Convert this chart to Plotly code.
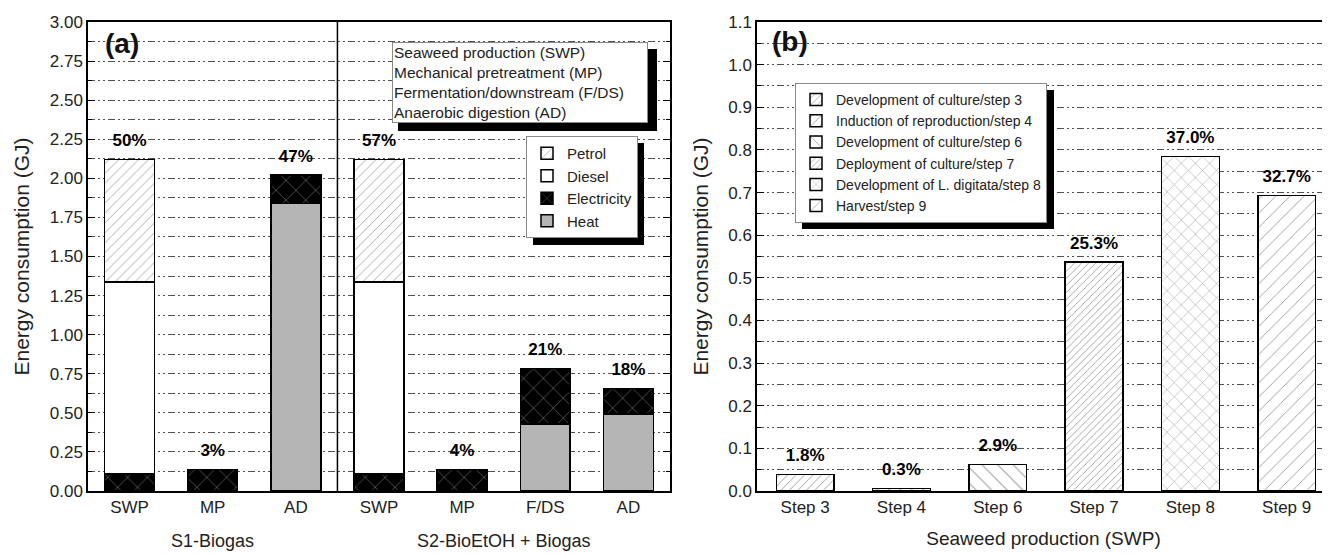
import plotly.graph_objects as go

# ---------------- data ----------------
scenarios = ["S1-Biogas", "S1-Biogas", "S1-Biogas",
             "S2-BioEtOH + Biogas", "S2-BioEtOH + Biogas", "S2-BioEtOH + Biogas", "S2-BioEtOH + Biogas"]
processes = ["SWP", "MP", "AD", "SWP", "MP", "F/DS", "AD"]
heat = [None, None, 1.838, None, None, 0.429, 0.493]
electricity = [0.110, 0.136, 0.183, 0.110, 0.136, 0.355, 0.164]
diesel = [1.227, None, None, 1.227, None, None, None]
petrol = [0.782, None, None, 0.782, None, None, None]
share_a = ["50%", "3%", "47%", "57%", "4%", "21%", "18%"]
scenario_labels = ["S1-Biogas", "S2-BioEtOH + Biogas"]

steps = ["Step 3", "Step 4", "Step 6", "Step 7", "Step 8", "Step 9"]
step_names = ["Development of culture/step 3", "Induction of reproduction/step 4",
              "Development of culture/step 6", "Deployment of culture/step 7",
              "Development of L. digitata/step 8", "Harvest/step 9"]
step_values = [0.039, 0.0055, 0.0625, 0.537, 0.784, 0.693]
share_b = ["1.8%", "0.3%", "2.9%", "25.3%", "37.0%", "32.7%"]

process_key = ["Seaweed production (SWP)", "Mechanical pretreatment (MP)",
               "Fermentation/downstream (F/DS)", "Anaerobic digestion (AD)"]

# ---------------- layout helpers ----------------
OFF = 8                      # default page margin of the html body
W, H = 1330 - OFF, 555 - OFF
TOP, BOT = 22, 491           # plot area in window pixels
FONT = "Liberation Sans, Arial, sans-serif"


def px(x):
    return (x - OFF) / W


def py(y):
    return (BOT - y) / (BOT - TOP)


keys = [s + "|" + p for s, p in zip(scenarios, processes)]
fig = go.Figure()

line = dict(color="black", width=1.5)
fig.add_trace(go.Bar(name="Heat", x=keys, y=heat, width=0.6,
                     marker=dict(color="#b5b5b5", line=line), legend="legend"))
fig.add_trace(go.Bar(name="Electricity", x=keys, y=electricity, width=0.6,
                     marker=dict(color="black", line=line,
                                 pattern=dict(shape="x", fgcolor="white", bgcolor="black",
                                              size=14, solidity=0.08, fillmode="overlay")),
                     legend="legend"))
fig.add_trace(go.Bar(name="Diesel", x=keys, y=diesel, width=0.6,
                     marker=dict(color="white", line=line), legend="legend"))
fig.add_trace(go.Bar(name="Petrol", x=keys, y=petrol, width=0.6,
                     marker=dict(color="white", line=line,
                                 pattern=dict(shape="/", fgcolor="#5a5a5a", bgcolor="white",
                                              size=7, solidity=0.14, fillmode="overlay")),
                     legend="legend"))

totals_a = []
for i in range(len(processes)):
    totals_a.append(sum(v[i] for v in (heat, electricity, diesel, petrol) if v[i] is not None))
fig.add_trace(go.Scatter(x=keys, y=totals_a, text=share_a, mode="markers+text",
                         textposition="top center",
                         marker=dict(size=13, color="rgba(0,0,0,0)"),
                         textfont=dict(family=FONT, size=17, color="black", weight="bold"),
                         showlegend=False, hoverinfo="skip"))

patterns_b = [dict(shape="/", size=6, solidity=0.15),
              dict(shape="/", size=8, solidity=0.13),
              dict(shape="\\", size=11, solidity=0.09),
              dict(shape="/", size=5, solidity=0.17),
              dict(shape="x", size=10, solidity=0.1),
              dict(shape="/", size=10, solidity=0.09)]
for s, n, v, p in zip(steps, step_names, step_values, patterns_b):
    fig.add_trace(go.Bar(name=n, x=[s], y=[v], width=0.6, xaxis="x2", yaxis="y2",
                         marker=dict(color="white", line=line,
                                     pattern=dict(fgcolor="#333333", bgcolor="white",
                                                  fillmode="overlay", **p)),
                         legend="legend2"))
fig.add_trace(go.Scatter(x=steps, y=step_values, text=share_b, mode="markers+text",
                         textposition="top center", xaxis="x2", yaxis="y2",
                         marker=dict(size=13, color="rgba(0,0,0,0)"),
                         textfont=dict(family=FONT, size=17, color="black", weight="bold"),
                         showlegend=False, hoverinfo="skip"))

grid_dash = "7px,3px,2px,3px,2px,3px"
yax_common = dict(showline=True, linecolor="black", linewidth=1.5, mirror="ticks",
                  ticks="inside", ticklen=7, tickcolor="black",
                  showgrid=True, gridcolor="#505050", gridwidth=1, griddash=grid_dash,
                  tickfont=dict(family=FONT, size=17, color="#222"),
                  title_font=dict(family=FONT, size=21, color="#222"),
                  zeroline=False, automargin=False)
xax_common = dict(showline=True, linecolor="black", linewidth=1.5, mirror=True,
                  ticks="", showgrid=False, zeroline=False, automargin=False,
                  tickfont=dict(family=FONT, size=17, color="#222"),
                  title_font=dict(family=FONT, size=19, color="#222"))

fig.update_layout(
    width=W, height=H, template="none",
    paper_bgcolor="white", plot_bgcolor="white",
    margin=dict(l=0, r=0, t=TOP - OFF, b=555 - BOT),
    barmode="stack",
    font=dict(family=FONT, color="#222"),
    xaxis=dict(domain=[px(88), px(670)], type="category", range=[-0.5, 6.5],
               tickmode="array", tickvals=keys, ticktext=processes, **xax_common),
    yaxis=dict(range=[0, 3.0], dtick=0.25, tickformat=".2f",
               title=dict(text="Energy consumption (GJ)", standoff=14),
               minor=dict(dtick=0.125, showgrid=True, gridcolor="#505050", griddash=grid_dash,
                          ticks="inside", ticklen=4, tickcolor="black"),
               **yax_common),
    xaxis2=dict(domain=[px(757), 1.0], type="category", range=[-0.5, 5.45], anchor="y2",
                title=dict(text="Seaweed production (SWP)", standoff=16), **xax_common),
    yaxis2=dict(range=[0, 1.1], dtick=0.1, tickformat=".1f", anchor="x2",
                title=dict(text="Energy consumption (GJ)", standoff=14),
                minor=dict(dtick=0.05, showgrid=True, gridcolor="#505050", griddash=grid_dash,
                           ticks="inside", ticklen=4, tickcolor="black"),
                **yax_common),
    legend=dict(x=px(526), y=py(136), xanchor="left", yanchor="top", bgcolor="white",
                bordercolor="#888", borderwidth=1, traceorder="reversed", tracegroupgap=0,
                font=dict(family=FONT, size=15, color="#222"), itemclick=False),
    legend2=dict(x=px(795), y=py(83), xanchor="left", yanchor="top", bgcolor="white",
                 bordercolor="#888", borderwidth=1, traceorder="normal", tracegroupgap=0,
                 font=dict(family=FONT, size=14, color="#222"), itemclick=False),
    showlegend=True,
)

# divider between scenarios
fig.add_shape(type="line", xref="x", yref="paper", x0=2.5, x1=2.5, y0=0, y1=1,
              line=dict(color="black", width=1.5), layer="above")

# scenario group labels under panel (a)
for lab, xc in zip(scenario_labels, [1, 4.5]):
    fig.add_annotation(xref="x", yref="paper", x=xc, y=py(541), yanchor="middle",
                       text=lab, showarrow=False, font=dict(family=FONT, size=18, color="#222"))

# legend shadows (window pixels)
shadows = [(398, 49, 657, 131), (533, 143, 644, 245), (802, 90, 1054, 229)]
for x0, y0, x1, y1 in shadows:
    fig.add_shape(type="rect", xref="paper", yref="paper", x0=px(x0), x1=px(x1),
                  y0=py(y1), y1=py(y0), fillcolor="black", line=dict(width=0), layer="above")

fig.add_annotation(xref="paper", yref="paper", x=px(392), y=py(42), xanchor="left", yanchor="top",
                   text="<br>".join(process_key), align="left", showarrow=False,
                   font=dict(family=FONT, size=15.5, color="#222"),
                   bgcolor="white", bordercolor="#888", borderwidth=1, borderpad=1,
                   width=252)
fig.add_annotation(xref="paper", yref="paper", x=px(103), y=py(43), xanchor="left", yanchor="middle",
                   text="<b>(a)</b>", showarrow=False, font=dict(family=FONT, size=28, color="#111"))
fig.add_annotation(xref="paper", yref="paper", x=px(770), y=py(42), xanchor="left", yanchor="middle",
                   text="<b>(b)</b>", showarrow=False, font=dict(family=FONT, size=28, color="#111"))

fig.write_html("out.html")
